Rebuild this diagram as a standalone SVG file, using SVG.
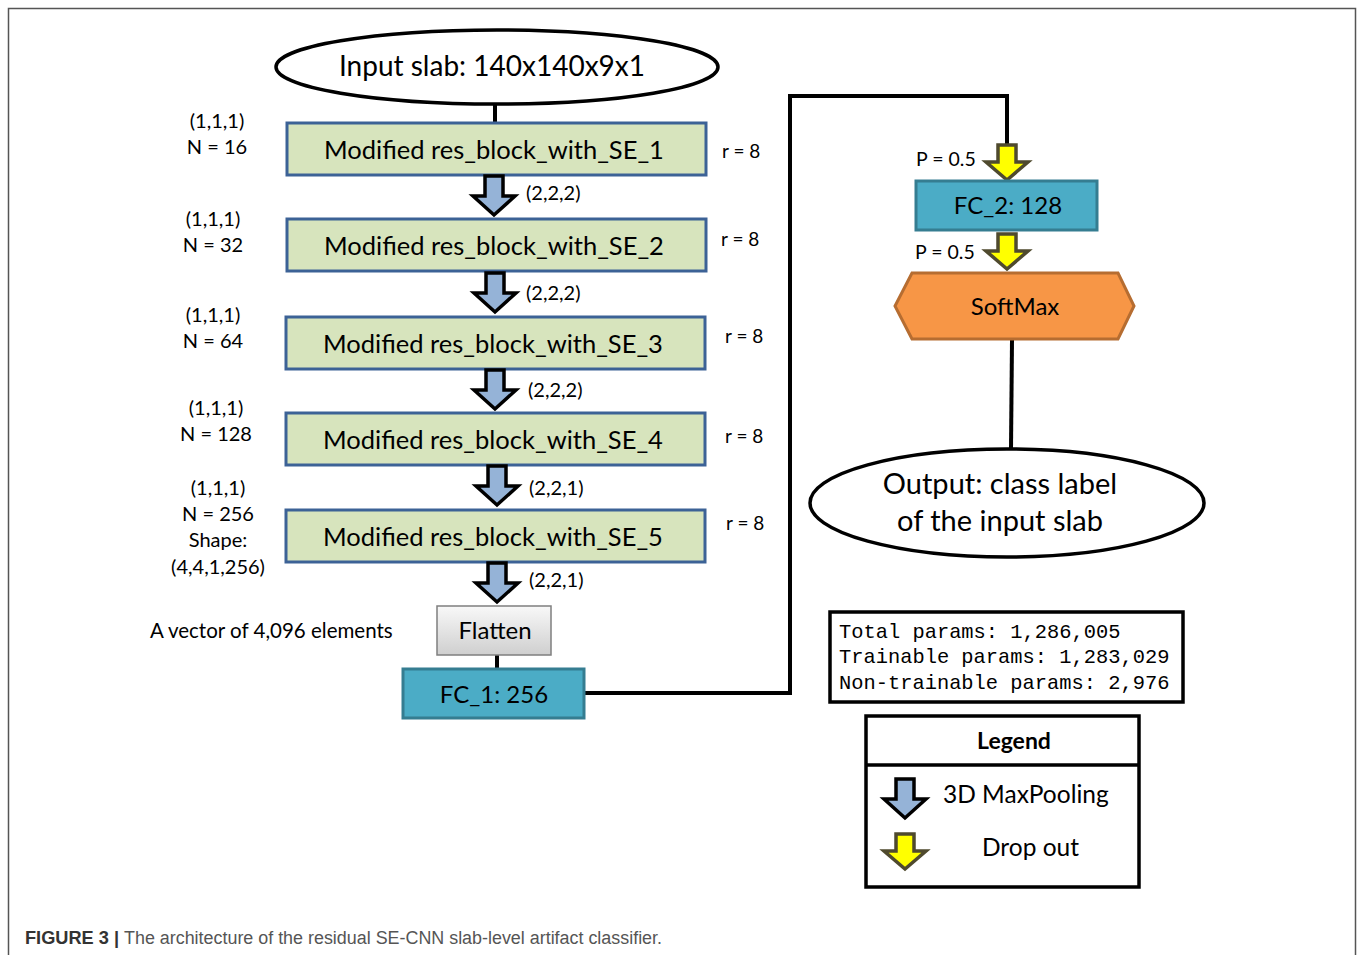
<svg xmlns="http://www.w3.org/2000/svg" width="1358" height="955" viewBox="0 0 1358 955">
<defs>
<style>
.t{font-family:Lato,"Open Sans",sans-serif;fill:#000}
.blk{fill:#d7e4bd;stroke:#3c6296;stroke-width:3}
.fc{fill:#4bacc6;stroke:#357d91;stroke-width:3}
.ell{fill:#fff;stroke:#000;stroke-width:3.5}
.ln{fill:none;stroke:#000;stroke-width:4}
.bx{fill:#fff;stroke:#000;stroke-width:3.5}
.mono{font-family:"Liberation Mono","DejaVu Sans Mono",monospace;font-size:20.4px;fill:#000}
</style>
<linearGradient id="gray" x1="0" y1="0" x2="0" y2="1">
<stop offset="0" stop-color="#f8f8f8"/>
<stop offset="1" stop-color="#cfcfcf"/>
</linearGradient>
<path id="ba" d="M -9,0 H 9 V 20 H 21 L 0,39 L -21,20 H -9 Z" fill="#95b3d7" stroke="#000" stroke-width="3.5" stroke-linejoin="miter"/>
<path id="ya" d="M -9,0 H 9 V 17 H 21 L 0,35 L -21,17 H -9 Z" fill="#ffff00" stroke="#4f4a2e" stroke-width="3.5"/>
</defs>
<rect width="1358" height="955" fill="#fff"/>
<path d="M 8.5,960 V 8.5 H 1355.5 V 960" fill="none" stroke="#555" stroke-width="1.5"/>

<g id="connectors">
<line class="ln" x1="495" y1="104" x2="495" y2="123"/>
<line class="ln" x1="497" y1="655" x2="497" y2="669"/>
<polyline class="ln" points="584,693 790,693 790,96 1007,96 1007,146"/>
<line class="ln" x1="1012" y1="340" x2="1011" y2="449"/>
</g>

<g id="input">
<ellipse class="ell" cx="497" cy="67" rx="221" ry="37"/>
<text class="t" x="492" y="76" font-size="28" text-anchor="middle">Input slab: 140x140x9x1</text>
</g>

<g id="block1">
<rect class="blk" x="287" y="123" width="419" height="52"/>
<text class="t" x="494" y="159" font-size="25.5" text-anchor="middle">Modified res_block_with_SE_1</text>
<text class="t" x="217" y="128" font-size="20" text-anchor="middle">(1,1,1)</text>
<text class="t" x="217" y="154" font-size="20" text-anchor="middle">N = 16</text>
<text class="t" x="722" y="158" font-size="19">r = 8</text>
</g>
<g id="pool1">
<use href="#ba" x="494" y="176"/>
<text class="t" x="526" y="200" font-size="20">(2,2,2)</text>
</g>

<g id="block2">
<rect class="blk" x="287" y="219" width="419" height="52"/>
<text class="t" x="494" y="255" font-size="25.5" text-anchor="middle">Modified res_block_with_SE_2</text>
<text class="t" x="213" y="226" font-size="20" text-anchor="middle">(1,1,1)</text>
<text class="t" x="213" y="252" font-size="20" text-anchor="middle">N = 32</text>
<text class="t" x="721" y="246" font-size="19">r = 8</text>
</g>
<g id="pool2">
<use href="#ba" x="495" y="273"/>
<text class="t" x="526" y="300" font-size="20">(2,2,2)</text>
</g>

<g id="block3">
<rect class="blk" x="286" y="317" width="419" height="52"/>
<text class="t" x="493" y="353" font-size="25.5" text-anchor="middle">Modified res_block_with_SE_3</text>
<text class="t" x="213" y="322" font-size="20" text-anchor="middle">(1,1,1)</text>
<text class="t" x="213" y="348" font-size="20" text-anchor="middle">N = 64</text>
<text class="t" x="725" y="343" font-size="19">r = 8</text>
</g>
<g id="pool3">
<use href="#ba" x="495" y="370"/>
<text class="t" x="528" y="397" font-size="20">(2,2,2)</text>
</g>

<g id="block4">
<rect class="blk" x="286" y="413" width="419" height="52"/>
<text class="t" x="493" y="449" font-size="25.5" text-anchor="middle">Modified res_block_with_SE_4</text>
<text class="t" x="216" y="415" font-size="20" text-anchor="middle">(1,1,1)</text>
<text class="t" x="216" y="441" font-size="20" text-anchor="middle">N = 128</text>
<text class="t" x="725" y="443" font-size="19">r = 8</text>
</g>
<g id="pool4">
<use href="#ba" x="497" y="466"/>
<text class="t" x="529" y="495" font-size="20">(2,2,1)</text>
</g>

<g id="block5">
<rect class="blk" x="286" y="510" width="419" height="52"/>
<text class="t" x="493" y="546" font-size="25.5" text-anchor="middle">Modified res_block_with_SE_5</text>
<text class="t" x="218" y="495" font-size="20" text-anchor="middle">(1,1,1)</text>
<text class="t" x="218" y="521" font-size="20" text-anchor="middle">N = 256</text>
<text class="t" x="218" y="547" font-size="20" text-anchor="middle">Shape:</text>
<text class="t" x="218" y="574" font-size="20" text-anchor="middle">(4,4,1,256)</text>
<text class="t" x="726" y="530" font-size="19">r = 8</text>
</g>
<g id="pool5">
<use href="#ba" x="497" y="563"/>
<text class="t" x="529" y="587" font-size="20">(2,2,1)</text>
</g>

<g id="flatten">
<rect x="437" y="606" width="114" height="49" fill="url(#gray)" stroke="#7f7f7f" stroke-width="1.5"/>
<text class="t" x="495" y="639" font-size="24" text-anchor="middle">Flatten</text>
<text class="t" x="150" y="638" font-size="20.5">A vector of 4,096 elements</text>
</g>

<g id="fc1">
<rect class="fc" x="403" y="669" width="181" height="49"/>
<text class="t" x="494" y="703" font-size="24" text-anchor="middle">FC_1: 256</text>
</g>

<g id="drop1">
<use href="#ya" x="1007" y="145"/>
<text class="t" x="916" y="166" font-size="19.5">P = 0.5</text>
</g>

<g id="fc2">
<rect class="fc" x="916" y="181" width="181" height="49"/>
<text class="t" x="1008" y="214" font-size="24" text-anchor="middle">FC_2: 128</text>
</g>

<g id="drop2">
<use href="#ya" x="1007" y="234"/>
<text class="t" x="915" y="259" font-size="19.5">P = 0.5</text>
</g>

<g id="softmax">
<polygon points="912,273 1118,273 1134,306 1118,339 912,339 895,306" fill="#f79646" stroke="#b66d31" stroke-width="3"/>
<text class="t" x="1015" y="315" font-size="24" text-anchor="middle">SoftMax</text>
</g>

<g id="output">
<ellipse class="ell" cx="1007" cy="503" rx="197" ry="54"/>
<text class="t" x="1000" y="494" font-size="29" text-anchor="middle">Output: class label</text>
<text class="t" x="1000" y="531" font-size="29" text-anchor="middle">of the input slab</text>
</g>

<g id="params">
<rect class="bx" x="830" y="612" width="353" height="90"/>
<text class="mono" x="839" y="638">Total params: 1,286,005</text>
<text class="mono" x="839" y="663">Trainable params: 1,283,029</text>
<text class="mono" x="839" y="689">Non-trainable params: 2,976</text>
</g>

<g id="legend">
<rect class="bx" x="866" y="716" width="273" height="171"/>
<line x1="866" y1="765" x2="1139" y2="765" stroke="#000" stroke-width="3.5"/>
<text class="t" x="1014" y="749" font-size="23" font-weight="bold" text-anchor="middle">Legend</text>
<use href="#ba" x="905" y="779"/>
<text class="t" x="943" y="803" font-size="24.5">3D MaxPooling</text>
<use href="#ya" x="905" y="834"/>
<text class="t" x="982" y="856" font-size="24.5">Drop out</text>
</g>

<g id="caption">
<text x="25" y="944" font-family="'Liberation Sans',Arial,sans-serif" font-size="18" font-weight="bold" fill="#333" textLength="94" lengthAdjust="spacingAndGlyphs">FIGURE 3 |</text>
<text x="124" y="944" font-family="'Liberation Sans',Arial,sans-serif" font-size="18" fill="#555" textLength="538" lengthAdjust="spacingAndGlyphs">The architecture of the residual SE-CNN slab-level artifact classifier.</text>
</g>
</svg>
